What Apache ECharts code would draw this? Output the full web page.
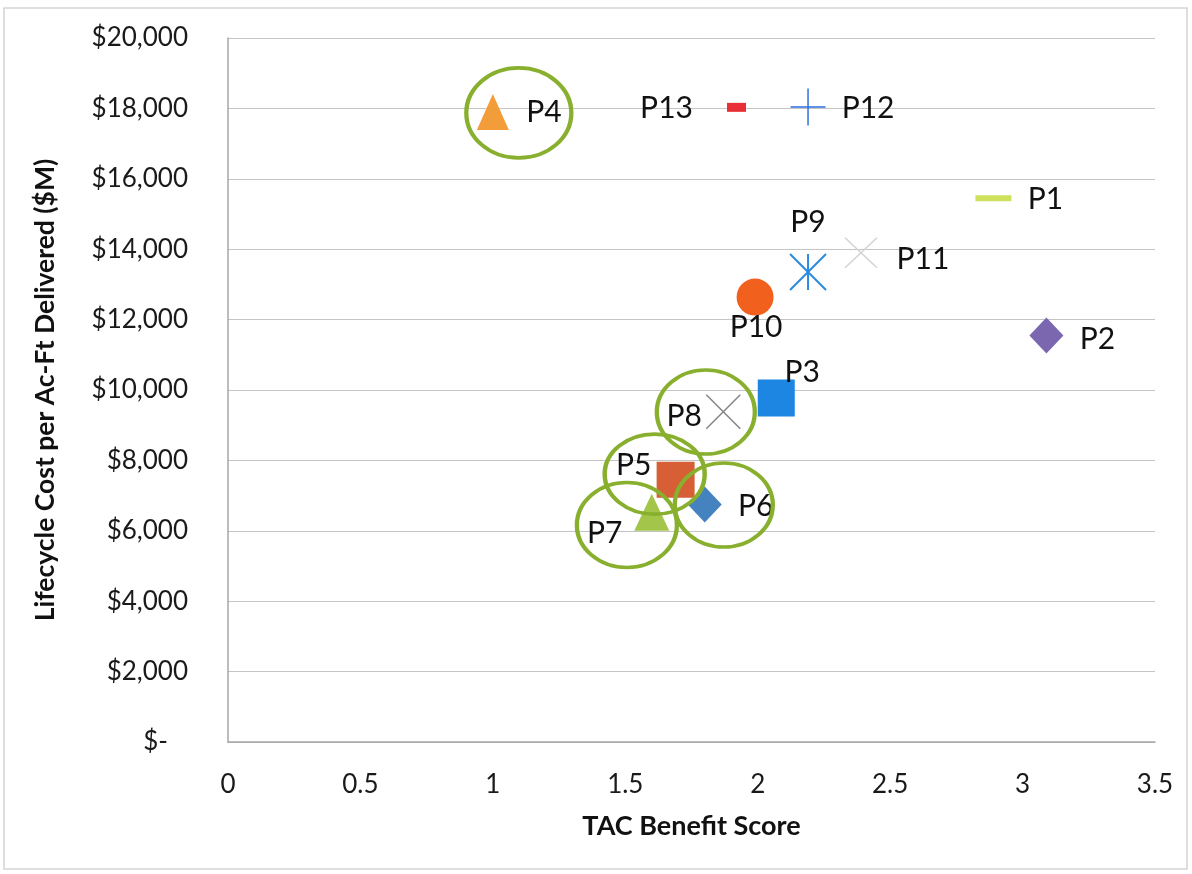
<!DOCTYPE html>
<html><head><meta charset="utf-8">
<script src="https://cdn.jsdelivr.net/npm/echarts@6/dist/echarts.min.js"></script>
<style>html,body{margin:0;padding:0;background:#fff}#c{width:1192px;height:874px}</style>
</head><body><div id="c"></div>
<script>
// ---- data ----
const projects      = ['P1','P2','P3','P4','P5','P6','P7','P8','P9','P10','P11','P12','P13'];
const benefitScore  = [2.89, 3.09, 2.07, 1.00, 1.69, 1.80, 1.60, 1.87, 2.19, 1.99, 2.39, 2.19, 1.92];
const lifecycleCost = [15450, 11550, 9770, 17900, 7450, 6750, 6530, 9380, 13350, 12640, 13900, 18040, 18030];
const highlighted   = ['P4','P8','P5','P6','P7'];
const highlightX    = [1.098, 1.804, 1.611, 1.872, 1.506];
const highlightY    = [17870, 9375, 7610, 6733, 6165];
const xTickValues   = [0, 0.5, 1, 1.5, 2, 2.5, 3, 3.5];

// ---- styles (not data) ----
const FONT = 'Lato, "Open Sans", sans-serif';
const XPATH = 'path://M0,0L10,10M10,0L0,10';
const STAR  = 'path://M0,0L10,10M10,0L0,10M5,0L5,10';
const PLUS  = 'path://M0,5L10,5M5,0L5,10';
const styles = {
  P1:  {symbol:'rect', size:[36,6], color:'#cfe05c', offset:[52,1]},
  P2:  {symbol:'diamond', size:[34,36], color:'#7b66b0', offset:[51,4]},
  P3:  {symbol:'rect', size:[37,37], color:'#1c86e2', offset:[26,-26]},
  P4:  {symbol:'triangle', size:[32,36], color:'#f39c3a', offset:[51,0]},
  P5:  {symbol:'rect', size:[38,36], color:'#d65f36', offset:[-42,-14]},
  P6:  {symbol:'diamond', size:[34,36], color:'#4583c0', offset:[51,2]},
  P7:  {symbol:'triangle', size:[35,37], color:'#a3c54a', offset:[-47,21]},
  P8:  {symbol:XPATH, size:[34,34], stroke:'#858585', lw:1.5, offset:[-39,5]},
  P9:  {symbol:STAR, size:[36,36], stroke:'#2a8ae0', lw:2, offset:[0,-50]},
  P10: {symbol:'circle', size:[37,37], color:'#f2601e', offset:[1,30]},
  P11: {symbol:XPATH, size:[32,30], stroke:'#d4d4d4', lw:1.5, offset:[62,7]},
  P12: {symbol:PLUS, size:[35,37], stroke:'#2a6fe0', lw:1.5, offset:[60,1]},
  P13: {symbol:'rect', size:[19,9], color:'#e82e36', offset:[-70,1]}
};
const ellipseSize = {P4:[105,90], P8:[98,84], P5:[100,80], P6:[98,84], P7:[100,85]};

const series = projects.map((p, i) => {
  const s = styles[p];
  const itemStyle = s.stroke
    ? {color:'none', borderColor:s.stroke, borderWidth:s.lw, opacity:1}
    : {color:s.color, opacity:1};
  return {
    name: p, type: 'scatter', z: 3,
    symbol: s.symbol, symbolSize: s.size,
    itemStyle,
    label: {show:true, formatter: p, position:'inside', offset:s.offset,
            fontSize:30, color:'#111', fontFamily:FONT},
    emphasis: {disabled:true},
    data: [[benefitScore[i], lifecycleCost[i]]]
  };
});
series.push({
  name:'highlight', type:'scatter', z:5, silent:true,
  symbol:'circle',
  data: highlighted.map((p, i) => ({value:[highlightX[i], highlightY[i]], symbolSize: ellipseSize[p]})),
  itemStyle:{color:'none', borderColor:'#88b02e', borderWidth:4, opacity:1},
  emphasis:{disabled:true}
});

const chart = echarts.init(document.getElementById('c'));
chart.setOption({
  animation:false,
  backgroundColor:'#fff',
  graphic:[{type:'rect', shape:{x:4, y:8, width:1183, height:861},
            style:{fill:'none', stroke:'#d4d4d4', lineWidth:1.5}, silent:true}],
  grid:{left:228, right:37, top:38, bottom:132},
  xAxis:{type:'value', min:0, max:3.5, interval:0.5,
    axisLine:{show:true, lineStyle:{color:'#a6a6a6', width:1.5}},
    axisTick:{show:false}, splitLine:{show:false},
    axisLabel:{fontSize:26, color:'#1a1a1a', margin:30, fontFamily:FONT,
      formatter: v => xTickValues.includes(v) ? String(v) : ''},
    name:'TAC Benefit Score', nameLocation:'middle', nameGap:71,
    nameTextStyle:{fontSize:27, fontWeight:'bold', color:'#111', fontFamily:FONT}
  },
  yAxis:{type:'value', min:0, max:20000, interval:2000,
    axisLine:{show:true, lineStyle:{color:'#a6a6a6', width:1.5}},
    axisTick:{show:false},
    splitLine:{show:true, lineStyle:{color:'#c4c4c4', width:1.2}},
    axisLabel:{fontSize:26, color:'#1a1a1a', margin:40, fontFamily:FONT,
      formatter: v => v === 0 ? '$-   ' : '$' + v.toLocaleString('en-US')},
    name:'Lifecycle Cost per Ac-Ft Delivered ($M)', nameLocation:'middle', nameGap:169,
    nameTextStyle:{fontSize:26.5, fontWeight:'bold', color:'#111', fontFamily:FONT}
  },
  series
});
</script></body></html>
